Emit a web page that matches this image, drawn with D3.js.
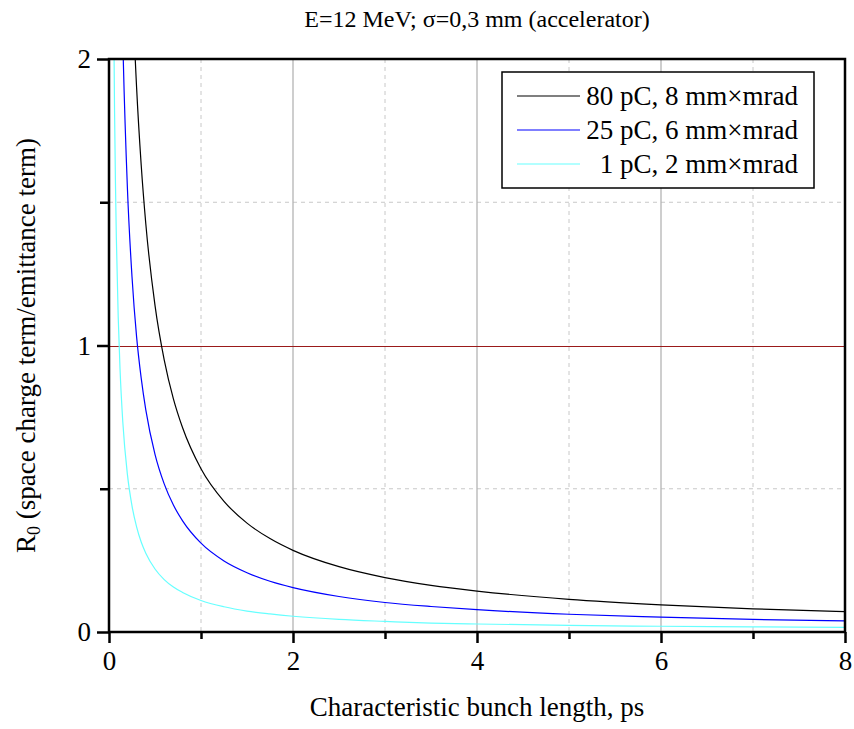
<!DOCTYPE html>
<html><head><meta charset="utf-8">
<script src="https://cdn.jsdelivr.net/npm/d3@7"></script>
<style>body{margin:0;background:#fff;} text{font-family:"Liberation Serif","Times New Roman",serif;fill:#000;}</style>
</head><body><svg id="c" width="854" height="729"></svg>
<script>
const xs = [0.04,0.05,0.06,0.07,0.08,0.1,0.12,0.15,0.2,0.25,0.3,0.35,0.4,0.5,0.6,0.7,0.8,1.0,1.25,1.5,1.75,2,2.5,3,3.5,4,5,6,7,8];
const black80 = [null,null,null,null,null,null,null,null,2.85,2.28,1.9,1.63,1.425,1.14,0.95,0.814,0.713,0.57,0.456,0.38,0.326,0.285,0.228,0.19,0.163,0.143,0.114,0.095,0.081,0.071];
const blue25 = [null,null,null,null,null,3.1,2.58,2.07,1.55,1.24,1.03,0.886,0.775,0.62,0.517,0.443,0.388,0.31,0.248,0.207,0.177,0.155,0.124,0.103,0.089,0.078,0.062,0.052,0.044,0.039];
const cyan1 = [2.75,2.2,1.83,1.57,1.375,1.1,0.917,0.733,0.55,0.44,0.367,0.314,0.275,0.22,0.183,0.157,0.138,0.11,0.088,0.073,0.063,0.055,0.044,0.037,0.031,0.028,0.023,0.02,0.018,0.016];
const seriesNames = ["80 pC, 8 mm\u00d7mrad","25 pC, 6 mm\u00d7mrad","1 pC, 2 mm\u00d7mrad"];
const seriesColors = ["#000000","#0000ff","#66ffff"];
const xTicks = [0,2,4,6,8];
const yTicks = [0,1,2];
const titleText = "E=12 MeV; \u03c3=0,3 mm (accelerator)";

const svg = d3.select("#c");
const L=109,R=845,T=59,B=632;
const x = d3.scaleLinear().domain([0,8]).range([L,R]);
const y = d3.scaleLinear().domain([0,2]).range([B,T]);

svg.append("defs").append("clipPath").attr("id","clip").append("rect")
  .attr("x",L).attr("y",T).attr("width",R-L).attr("height",B-T);

const g = svg.append("g");
[1,3,5,7].forEach(v=>g.append("line").attr("x1",x(v)).attr("x2",x(v)).attr("y1",T).attr("y2",B)
  .attr("stroke","#c8c8c8").attr("stroke-width",1).attr("stroke-dasharray","4,4"));
[0.5,1.5].forEach(v=>g.append("line").attr("x1",L).attr("x2",R).attr("y1",y(v)).attr("y2",y(v))
  .attr("stroke","#c8c8c8").attr("stroke-width",1).attr("stroke-dasharray","4,4"));
[2,4,6].forEach(v=>g.append("line").attr("x1",x(v)).attr("x2",x(v)).attr("y1",T).attr("y2",B)
  .attr("stroke","#b4b4b4").attr("stroke-width",1.3));
g.append("line").attr("x1",L).attr("x2",R).attr("y1",Math.round(y(1))+0.5).attr("y2",Math.round(y(1))+0.5)
  .attr("stroke","#9a1a1a").attr("stroke-width",1);

const all = [black80, blue25, cyan1];
const cg = svg.append("g").attr("clip-path","url(#clip)");
all.forEach((arr,i)=>{
  const pts = xs.map((v,j)=>[v,arr[j]]);
  const line = d3.line().defined(d=>d[1]!=null).x(d=>x(d[0])).y(d=>y(d[1])).curve(d3.curveMonotoneX);
  cg.append("path").attr("d",line(pts)).attr("fill","none").attr("stroke",seriesColors[i]).attr("stroke-width",1.2);
});

const xAxis = d3.axisBottom(x).tickValues(xTicks).tickSize(11).tickPadding(8).tickFormat(d3.format("d"));
const xa = svg.append("g").attr("transform",`translate(0,${B})`).call(xAxis);
xa.select(".domain").remove();
xa.selectAll("line").attr("stroke","#000").attr("stroke-width",2.5);
xa.selectAll("text").attr("font-size",27).attr("font-family","Liberation Serif");
const xMinor = d3.axisBottom(x).tickValues([1,3,5,7]).tickSize(7).tickFormat("");
const xm = svg.append("g").attr("transform",`translate(0,${B})`).call(xMinor);
xm.select(".domain").remove(); xm.selectAll("line").attr("stroke","#000").attr("stroke-width",2.5);

const yAxis = d3.axisLeft(y).tickValues(yTicks).tickSize(12).tickPadding(6).tickFormat(d3.format("d"));
const ya = svg.append("g").attr("transform",`translate(${L},0)`).call(yAxis);
ya.select(".domain").remove();
ya.selectAll("line").attr("stroke","#000").attr("stroke-width",2.5);
ya.selectAll("text").attr("font-size",27).attr("font-family","Liberation Serif");
const yMinor = d3.axisLeft(y).tickValues([0.5,1.5]).tickSize(9).tickFormat("");
const ym = svg.append("g").attr("transform",`translate(${L},0)`).call(yMinor);
ym.select(".domain").remove(); ym.selectAll("line").attr("stroke","#000").attr("stroke-width",2.5);

svg.append("rect").attr("x",L).attr("y",T).attr("width",R-L).attr("height",B-T)
  .attr("fill","none").attr("stroke","#000").attr("stroke-width",2.5);

svg.append("text").attr("x",(L+R)/2).attr("y",27).attr("text-anchor","middle").attr("font-size",24).text(titleText);
svg.append("text").attr("x",(L+R)/2).attr("y",716).attr("text-anchor","middle").attr("font-size",27).text("Characteristic bunch length, ps");
const yl = svg.append("text").attr("transform",`translate(35,${(T+B)/2}) rotate(-90)`).attr("text-anchor","middle").attr("font-size",27);
yl.append("tspan").text("R");
yl.append("tspan").attr("font-size",18).attr("dy",5).text("0");
yl.append("tspan").attr("dy",-5).text(" (space charge term/emittance term)");

const lg = svg.append("g");
lg.append("rect").attr("x",502).attr("y",72).attr("width",312).attr("height",116)
  .attr("fill","#fff").attr("stroke","#000").attr("stroke-width",1.5);
seriesNames.forEach((n,i)=>{
  const yy = 96 + i*34;
  lg.append("line").attr("x1",517).attr("x2",580).attr("y1",yy).attr("y2",yy).attr("stroke",seriesColors[i]).attr("stroke-width",1.2);
  lg.append("text").attr("x",798).attr("y",yy+9).attr("text-anchor","end").attr("font-size",27).text(n);
});
</script></body></html>
